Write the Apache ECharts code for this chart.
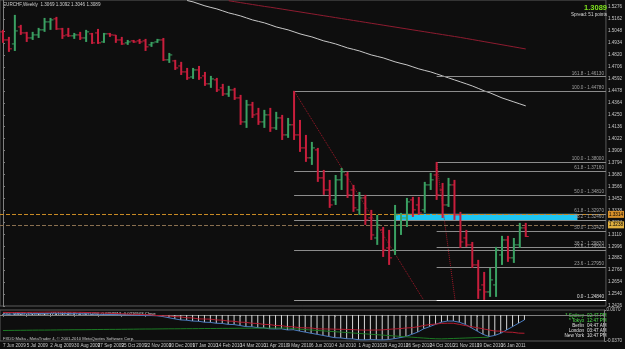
<!DOCTYPE html>
<html>
<head>
<meta charset="utf-8">
<script src="https://cdn.jsdelivr.net/npm/echarts@6/dist/echarts.min.js"></script>
<style>
  html, body { margin: 0; padding: 0; background: #0e0e0e; }
  #chart { width: 625px; height: 349px; }
</style>
</head>
<body>
<div id="chart"></div>
<script>
// weekly EURCHF bars, 7 Jun 2009 .. 13 Feb 2011
const opens = [
  1.5041,1.4964,1.4926,1.5088,1.5031,1.4983,1.5012,1.5060,1.5136,1.5165,
  1.5069,1.5012,1.5003,1.5012,1.4983,1.5022,1.5031,1.4945,1.5022,1.5010,
  1.4964,1.4936,1.4955,1.4955,1.4955,1.4917,1.4945,1.4964,1.4774,1.4764,
  1.4716,1.4659,1.4611,1.4678,1.4621,1.4545,1.4583,1.4507,1.4449,1.4487,
  1.4411,1.4182,1.4344,1.4258,1.4182,1.4249,1.4125,1.4220,1.4058,1.4154,
  1.4058,1.3934,1.3839,1.3915,1.3648,1.3533,1.3438,1.3629,1.3676,1.3533,
  1.3343,1.3457,1.3266,1.3075,1.3152,1.2980,1.2961,1.3199,1.3266,1.3438,
  1.3390,1.3343,1.3581,1.3676,1.3533,1.3390,1.3581,1.3295,1.3075,1.3009,
  1.2818,1.2627,1.2560,1.2627,1.2913,1.3056,1.2885,1.3009,1.3171
];
const closes = [
  1.4964,1.4879,1.5050,1.5031,1.4983,1.5012,1.5060,1.5136,1.5155,1.5069,
  1.5003,1.5003,1.5012,1.4983,1.5041,1.4936,1.4936,1.5022,1.5012,1.4964,
  1.4926,1.4945,1.4945,1.4945,1.4898,1.4936,1.4964,1.4774,1.4821,1.4697,
  1.4659,1.4602,1.4678,1.4602,1.4545,1.4592,1.4487,1.4449,1.4487,1.4411,
  1.4182,1.4344,1.4249,1.4182,1.4249,1.4125,1.4220,1.4058,1.4154,1.4058,
  1.3934,1.3839,1.3934,1.3648,1.3533,1.3390,1.3629,1.3705,1.3486,1.3362,
  1.3457,1.3247,1.3104,1.3199,1.2961,1.2885,1.3295,1.3266,1.3419,1.3343,
  1.3314,1.3581,1.3629,1.3486,1.3390,1.3581,1.3295,1.3037,1.3009,1.2818,
  1.2580,1.2560,1.2675,1.2961,1.3056,1.2885,1.3009,1.3171,1.3089
];
const lows = [
  1.4936,1.4850,1.4859,1.5012,1.4945,1.4964,1.4983,1.5041,1.5060,1.5060,
  1.4974,1.4993,1.4974,1.4964,1.4945,1.4926,1.4926,1.4936,1.4993,1.4936,
  1.4917,1.4917,1.4936,1.4926,1.4859,1.4898,1.4936,1.4764,1.4745,1.4678,
  1.4630,1.4583,1.4592,1.4583,1.4526,1.4507,1.4468,1.4430,1.4421,1.4392,
  1.4154,1.4125,1.4220,1.4154,1.4125,1.4087,1.4106,1.4010,1.4030,1.4010,
  1.3896,1.3801,1.3772,1.3610,1.3486,1.3362,1.3390,1.3533,1.3457,1.3324,
  1.3295,1.3199,1.3056,1.3009,1.2894,1.2818,1.2913,1.3104,1.3180,1.3276,
  1.3295,1.3314,1.3533,1.3438,1.3266,1.3371,1.3247,1.2980,1.2990,1.2789,
  1.2494,1.2484,1.2513,1.2513,1.2818,1.2847,1.2837,1.2980,1.3085
];
const highs = [
  1.5060,1.4993,1.5203,1.5108,1.5041,1.5041,1.5079,1.5174,1.5174,1.5184,
  1.5079,1.5079,1.5031,1.5041,1.5060,1.5031,1.5069,1.5031,1.5031,1.5012,
  1.4993,1.4964,1.4964,1.4974,1.4974,1.4945,1.4974,1.4983,1.4840,1.4774,
  1.4755,1.4697,1.4697,1.4716,1.4659,1.4621,1.4602,1.4545,1.4526,1.4507,
  1.4440,1.4392,1.4373,1.4316,1.4297,1.4316,1.4278,1.4249,1.4220,1.4478,
  1.4201,1.4058,1.3991,1.3934,1.3724,1.3629,1.3676,1.3743,1.3705,1.3581,
  1.3514,1.3486,1.3343,1.3295,1.3180,1.3152,1.3390,1.3314,1.3457,1.3467,
  1.3467,1.3610,1.3696,1.3800,1.3600,1.3648,1.3629,1.3324,1.3152,1.3037,
  1.2866,1.2751,1.2789,1.2990,1.3095,1.3095,1.3075,1.3219,1.3219
];

// moving averages (null = above the visible window)
const maSlow = [
  null,null,null,null,null,null,null,null,null,null,
  null,null,null,null,null,null,null,null,null,null,
  null,null,null,null,null,null,null,null,null,null,
  null,null,null,null,null,null,null,null,1.5338,1.5329,
  1.5320,1.5311,1.5302,1.5293,1.5284,1.5276,1.5267,1.5258,1.5249,1.5240,
  1.5231,1.5222,1.5213,1.5204,1.5195,1.5186,1.5177,1.5168,1.5159,1.5150,
  1.5141,1.5132,1.5123,1.5114,1.5105,1.5096,1.5087,1.5078,1.5069,1.5060,
  1.5051,1.5042,1.5033,1.5024,1.5015,1.5006,1.4997,1.4988,1.4978,1.4968,
  1.4958,1.4948,1.4938,1.4928,1.4918,1.4908,1.4898,1.4888,1.4878
];
const maFast = [
  null,null,null,null,null,null,null,null,null,null,
  null,null,null,null,null,null,null,null,null,null,
  null,null,null,null,null,null,null,null,null,null,
  null,1.5340,1.5327,1.5308,1.5289,1.5274,1.5260,1.5241,1.5222,1.5208,
  1.5193,1.5174,1.5155,1.5141,1.5127,1.5108,1.5088,1.5074,1.5060,1.5041,
  1.5022,1.5007,1.4993,1.4974,1.4955,1.4941,1.4926,1.4907,1.4888,1.4874,
  1.4859,1.4840,1.4821,1.4807,1.4793,1.4774,1.4755,1.4740,1.4726,1.4707,
  1.4688,1.4673,1.4659,1.4640,1.4621,1.4602,1.4583,1.4564,1.4545,1.4525,
  1.4502,1.4478,1.4459,1.4435,1.4411,1.4392,1.4373,1.4354,1.4335
];

// MACD divergence sub-window
const macd = [
  0.0012,0.0010,0.0015,0.0018,0.0016,0.0017,0.0019,0.0022,0.0024,0.0025,
  0.0021,0.0019,0.0018,0.0017,0.0016,0.0012,0.0010,0.0008,0.0006,0.0004,
  0.0002,0.0000,-0.0002,-0.0004,-0.0009,-0.0009,-0.0012,-0.0024,-0.0040,-0.0056,
  -0.0071,-0.0075,-0.0087,-0.0090,-0.0103,-0.0106,-0.0118,-0.0121,-0.0134,-0.0137,
  -0.0150,-0.0166,-0.0168,-0.0181,-0.0184,-0.0197,-0.0199,-0.0197,-0.0213,-0.0210,
  -0.0228,-0.0244,-0.0260,-0.0275,-0.0291,-0.0307,-0.0323,-0.0326,-0.0338,-0.0340,
  -0.0352,-0.0354,-0.0350,-0.0352,-0.0354,-0.0350,-0.0338,-0.0323,-0.0307,-0.0275,
  -0.0244,-0.0197,-0.0166,-0.0134,-0.0103,-0.0087,-0.0087,-0.0103,-0.0134,-0.0181,
  -0.0228,-0.0275,-0.0307,-0.0291,-0.0260,-0.0213,-0.0166,-0.0118,-0.0071
];
const signal = [
  0.0036,0.0035,0.0035,0.0036,0.0036,0.0037,0.0038,0.0039,0.0040,0.0041,
  0.0040,0.0039,0.0038,0.0037,0.0035,0.0032,0.0029,0.0026,0.0023,0.0020,
  0.0017,0.0013,0.0010,0.0007,0.0004,0.0001,-0.0009,-0.0012,-0.0015,-0.0024,
  -0.0028,-0.0040,-0.0043,-0.0056,-0.0058,-0.0060,-0.0071,-0.0074,-0.0087,-0.0090,
  -0.0103,-0.0105,-0.0118,-0.0121,-0.0134,-0.0137,-0.0150,-0.0152,-0.0166,-0.0168,
  -0.0181,-0.0183,-0.0185,-0.0197,-0.0199,-0.0200,-0.0202,-0.0204,-0.0206,-0.0208,
  -0.0213,-0.0215,-0.0215,-0.0214,-0.0212,-0.0205,-0.0199,-0.0195,-0.0185,-0.0181,
  -0.0168,-0.0150,-0.0137,-0.0130,-0.0120,-0.0118,-0.0118,-0.0134,-0.0150,-0.0166,
  -0.0181,-0.0197,-0.0213,-0.0228,-0.0230,-0.0244,-0.0246,-0.0258,-0.0260
];
const divLine = [
  -0.0221,-0.0220,-0.0219,-0.0218,-0.0217,-0.0216,-0.0215,-0.0215,-0.0214,-0.0213,
  -0.0212,-0.0211,-0.0210,-0.0210,-0.0209,-0.0208,-0.0207,-0.0206,-0.0205,-0.0205,
  -0.0204,-0.0203,-0.0202,-0.0201,-0.0200,-0.0200,-0.0199,-0.0198,-0.0197,-0.0197,
  -0.0196,-0.0195,-0.0195,-0.0194,-0.0193,-0.0193,-0.0192,-0.0191,-0.0191,-0.0190,
  -0.0189,-0.0189,-0.0188,-0.0188,-0.0187,-0.0187,-0.0186,-0.0186,-0.0185,-0.0195,
  -0.0202,-0.0208,-0.0214,-0.0220,-0.0226,-0.0232,-0.0238,-0.0244,-0.0250,-0.0256,
  -0.0262,-0.0268,-0.0274,-0.0280,-0.0286,-0.0292,-0.0298,-0.0304,-0.0310,-0.0316,
  -0.0322,-0.0328,-0.0334,-0.0338,-0.0340,-0.0337,-0.0334,-0.0331,-0.0328,-0.0325,
  -0.0322,-0.0319,-0.0316,null,null,null,null,null,null
];

// date labels every 4th week
const dateLabels = ['7 Jun 2009','5 Jul 2009','2 Aug 2009','30 Aug 2009','27 Sep 2009','25 Oct 2009',
  '22 Nov 2009','20 Dec 2009','17 Jan 2010','14 Feb 2010','14 Mar 2010','11 Apr 2010','9 May 2010',
  '6 Jun 2010','4 Jul 2010','1 Aug 2010','29 Aug 2010','26 Sep 2010','24 Oct 2010','21 Nov 2010',
  '19 Dec 2010','16 Jan 2011','13 Feb 2011'];

// fibonacci levels: [level, price]
const fibHighStart = 49, fibOctStart = 73;
const fibMayLevels = [['100.0',1.4478],['61.8',1.3716],['50.0',1.3481],['38.2',1.3246],['23.6',1.2955],['0.0',1.2484]];
const fibOctLevels = [['161.8',1.4613],['100.0',1.3800],['61.8',1.3297],['50.0',1.3142],['38.2',1.2987],['23.6',1.2795],['0.0',1.2484]];
const fibBaseMay = [[49, 1.4478], [70.8, 1.2484]];
const fibBaseOct = [[73, 1.3800], [76.1, 1.2484]];
const zoneTop = 1.3305, zoneBottom = 1.3238, zoneStart = 65.9, zoneEnd = 96.7;
const hLines = [1.3314, 1.3238];
const bid = 1.3089;

const totalSlots = 102; // includes the empty shift on the right
const cats = [];
for (let i = 0; i < totalSlots; i++) cats.push(String(i));
const barData = opens.map((o, i) => [i, o, closes[i], lows[i], highs[i]]);

const UP = '#3aa062', DOWN = '#c81e3c';
const FONT = 'Liberation Sans';
const SMALL = 4.6;

function renderBar(params, api) {
  const x = api.value(0);
  const o = api.value(1), c = api.value(2), l = api.value(3), h = api.value(4);
  const pH = api.coord([x, h]), pL = api.coord([x, l]);
  const pO = api.coord([x, o]), pC = api.coord([x, c]);
  const color = c >= o ? UP : DOWN;
  return {
    type: 'group',
    children: [
      { type: 'line', shape: { x1: pH[0], y1: pH[1], x2: pL[0], y2: pL[1] }, style: { stroke: color, lineWidth: 2 } },
      { type: 'line', shape: { x1: pO[0] - 3, y1: pO[1], x2: pO[0], y2: pO[1] }, style: { stroke: color, lineWidth: 1 } },
      { type: 'line', shape: { x1: pC[0], y1: pC[1], x2: pC[0] + 3, y2: pC[1] }, style: { stroke: color, lineWidth: 1 } }
    ]
  };
}

function fibMarks(levels, start, lastColor) {
  return levels.map(([lvl, v]) => [
    { coord: [start, v], lineStyle: { color: lvl === '0.0' ? lastColor : '#8c8c8c' },
      label: { formatter: lvl + ' - ' + v.toFixed(5) } },
    { coord: [totalSlots - 0.5, v] }
  ]);
}

function tagLabel(text, bg) {
  return { position: 'end', distance: 2, formatter: text, color: '#000', backgroundColor: bg,
    fontSize: SMALL, fontFamily: FONT, padding: [1, 1] };
}

const myChart = echarts.init(document.getElementById('chart'));

const option = {
  backgroundColor: '#0e0e0e',
  animation: false,
  grid: [
    { left: -1, top: 0, width: 611, height: 306, show: true, borderColor: '#5a5a5a', borderWidth: 1, backgroundColor: 'transparent' },
    { left: -1, top: 310, width: 611, height: 31, show: true, borderColor: '#5a5a5a', borderWidth: 1, backgroundColor: 'transparent' }
  ],
  xAxis: [
    { type: 'category', gridIndex: 0, data: cats, boundaryGap: true, show: false },
    { type: 'category', gridIndex: 1, data: cats, boundaryGap: true,
      axisLine: { lineStyle: { color: '#808080' } },
      axisTick: { show: true, length: 2, lineStyle: { color: '#808080' },
        interval: (i) => i % 4 === 0 && i <= 88, alignWithLabel: true },
      axisLabel: { interval: (i) => i % 4 === 0 && i <= 88, align: 'left', margin: 2,
        showMinLabel: true, hideOverlap: false,
        color: '#c8c8c8', fontSize: SMALL, fontFamily: FONT,
        formatter: (v, i) => dateLabels[i / 4] || '' } },
    { type: 'value', gridIndex: 0, min: -0.5, max: totalSlots - 0.5, show: false }
  ],
  yAxis: [
    { type: 'value', gridIndex: 0, position: 'right', min: 1.2426, max: 1.5345, interval: 0.0114,
      axisLine: { show: true, lineStyle: { color: '#808080' } },
      axisTick: { show: true, length: 2, lineStyle: { color: '#808080' } },
      axisLabel: { color: '#c8c8c8', fontSize: SMALL, fontFamily: FONT, margin: 2, showMaxLabel: false,
        formatter: (v) => v.toFixed(4) },
      splitLine: { show: false } },
    { type: 'value', gridIndex: 1, position: 'right', min: -0.037, max: 0.007, interval: 0.044,
      axisLine: { show: true, lineStyle: { color: '#808080' } },
      axisTick: { show: true, length: 2, lineStyle: { color: '#808080' } },
      axisLabel: { color: '#c8c8c8', fontSize: SMALL, fontFamily: FONT, margin: 2,
        formatter: (v) => v.toFixed(4) },
      splitLine: { show: false } }
  ],
  series: [
    { name: 'EURCHF', type: 'custom', xAxisIndex: 0, yAxisIndex: 0, renderItem: renderBar,
      data: barData, encode: { x: 0, y: [1, 2, 3, 4] }, clip: true, z: 5 },
    { name: 'MA slow', type: 'line', xAxisIndex: 0, yAxisIndex: 0, data: maSlow, symbol: 'none',
      lineStyle: { color: '#8e1c30', width: 1 }, clip: true, z: 4 },
    { name: 'MA fast', type: 'line', xAxisIndex: 0, yAxisIndex: 0, data: maFast, symbol: 'none',
      lineStyle: { color: '#c8c8c8', width: 1 }, clip: true, z: 4 },
    { name: 'fib May', type: 'line', xAxisIndex: 2, yAxisIndex: 0, data: fibBaseMay, symbol: 'none',
      lineStyle: { color: '#a01828', width: 1, type: 'dotted' }, z: 3,
      markLine: { silent: true, symbol: ['none', 'none'], animation: false,
        lineStyle: { type: 'solid', width: 1 },
        label: { position: 'insideEndTop', color: '#a0a0a0', fontSize: SMALL, fontFamily: FONT, distance: [2, 1] },
        data: fibMarks(fibMayLevels, fibHighStart, '#9a9a9a') } },
    { name: 'fib Oct', type: 'line', xAxisIndex: 2, yAxisIndex: 0, data: fibBaseOct, symbol: 'none',
      lineStyle: { color: '#a01828', width: 1, type: 'dotted' }, z: 3,
      markLine: { silent: true, symbol: ['none', 'none'], animation: false,
        lineStyle: { type: 'solid', width: 1 },
        label: { position: 'insideEndTop', color: '#a0a0a0', fontSize: SMALL, fontFamily: FONT, distance: [2, 1] },
        data: fibMarks(fibOctLevels, fibOctStart, '#ffffff') } },
    { name: 'zone', type: 'line', xAxisIndex: 2, yAxisIndex: 0, data: [], symbol: 'none', z: 2,
      markArea: { silent: true, itemStyle: { color: '#1ec6f2', opacity: 1 },
        data: [[{ coord: [zoneStart, zoneTop] }, { coord: [zoneEnd, zoneBottom] }]] },
      markLine: { silent: true, symbol: ['none', 'none'], animation: false,
        data: [
          { yAxis: hLines[0], lineStyle: { color: '#c88a24', type: 'dashed', width: 1 },
            label: tagLabel(hLines[0].toFixed(4), '#d8902a') },
          { yAxis: hLines[1], lineStyle: { color: '#8a7050', type: 'dashed', width: 1 },
            label: tagLabel(hLines[1].toFixed(4), '#e0b040') },
          { yAxis: bid, lineStyle: { opacity: 0 }, label: tagLabel(bid.toFixed(4), '#d0d0d0') }
        ] } },
    { name: 'hist', type: 'bar', xAxisIndex: 1, yAxisIndex: 1, data: macd, barWidth: 1,
      itemStyle: { color: '#d8d8d8' }, z: 2 },
    { name: 'macd', type: 'line', xAxisIndex: 1, yAxisIndex: 1, data: macd, symbol: 'none',
      lineStyle: { color: '#4a7cc0', width: 1 }, z: 3 },
    { name: 'signal', type: 'line', xAxisIndex: 1, yAxisIndex: 1, data: signal, symbol: 'none',
      lineStyle: { color: '#b41c30', width: 1 }, z: 3 },
    { name: 'div', type: 'line', xAxisIndex: 1, yAxisIndex: 1, data: divLine, symbol: 'none',
      lineStyle: { color: '#1c7a24', width: 1 }, z: 3 }
  ],
  graphic: [
    { type: 'text', x: 3, y: 4.5, style: { text: 'EURCHF,Weekly  1.3069 1.3092 1.3046 1.3089',
      fill: '#d0d0d0', fontSize: SMALL, fontFamily: FONT, verticalAlign: 'middle' } },
    { type: 'text', x: 607, y: 7.5, style: { text: '1.3089', fill: '#7ee21e', fontSize: 7.5,
      fontWeight: 'bold', fontFamily: FONT, align: 'right', verticalAlign: 'middle' } },
    { type: 'text', x: 607, y: 14.5, style: { text: 'Spread: 51 points', fill: '#d8d8d8', fontSize: SMALL,
      fontFamily: FONT, align: 'right', verticalAlign: 'middle' } },
    { type: 'text', x: 3, y: 313.5, style: { text: 'FX5_MACD_Divergence_V1.1(12,26,9) -0.0071094 -0.0259813 -0.0216503 Close',
      fill: '#e0e0e0', fontSize: 4.2, fontFamily: FONT, verticalAlign: 'middle' } },
    { type: 'text', x: 3, y: 339, style: { text: 'FXDD Malta - MetaTrader 4, \u00a9 2001-2010 MetaQuotes Software Corp.',
      fill: '#c8c8c8', fontSize: 4.2, fontFamily: FONT, verticalAlign: 'middle' } },
    { type: 'text', x: 584, y: 316, style: { text: '* Sydney', fill: '#4ee04e', fontSize: SMALL, fontFamily: FONT, align: 'right', verticalAlign: 'middle' } },
    { type: 'text', x: 587, y: 316, style: { text: '02:47 PM', fill: '#4ee04e', fontSize: SMALL, fontFamily: FONT, verticalAlign: 'middle' } },
    { type: 'text', x: 584, y: 321, style: { text: '* Tokyo', fill: '#4ee04e', fontSize: SMALL, fontFamily: FONT, align: 'right', verticalAlign: 'middle' } },
    { type: 'text', x: 587, y: 321, style: { text: '12:47 PM', fill: '#4ee04e', fontSize: SMALL, fontFamily: FONT, verticalAlign: 'middle' } },
    { type: 'text', x: 584, y: 326, style: { text: 'Berlin', fill: '#e0e0e0', fontSize: SMALL, fontFamily: FONT, align: 'right', verticalAlign: 'middle' } },
    { type: 'text', x: 587, y: 326, style: { text: '04:47 AM', fill: '#e0e0e0', fontSize: SMALL, fontFamily: FONT, verticalAlign: 'middle' } },
    { type: 'text', x: 584, y: 331, style: { text: 'London', fill: '#e0e0e0', fontSize: SMALL, fontFamily: FONT, align: 'right', verticalAlign: 'middle' } },
    { type: 'text', x: 587, y: 331, style: { text: '03:47 AM', fill: '#e0e0e0', fontSize: SMALL, fontFamily: FONT, verticalAlign: 'middle' } },
    { type: 'text', x: 584, y: 336, style: { text: 'New York', fill: '#e0e0e0', fontSize: SMALL, fontFamily: FONT, align: 'right', verticalAlign: 'middle' } },
    { type: 'text', x: 587, y: 336, style: { text: '10:47 PM', fill: '#e0e0e0', fontSize: SMALL, fontFamily: FONT, verticalAlign: 'middle' } }
  ]
};

myChart.setOption(option);
</script>
</body>
</html>
